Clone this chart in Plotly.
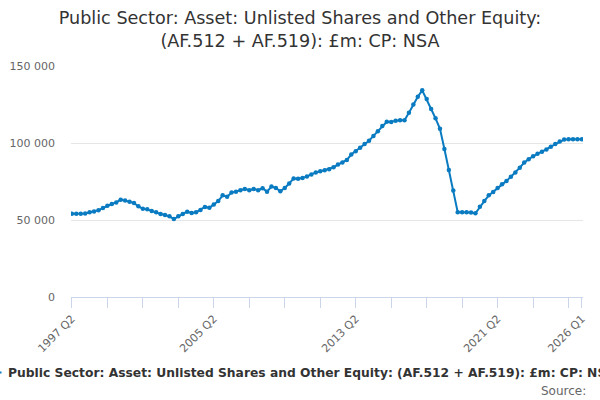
import plotly.graph_objects as go

title_text = "Public Sector: Asset: Unlisted Shares and Other Equity:<br>(AF.512 + AF.519): £m: CP: NSA"
series_name = "Public Sector: Asset: Unlisted Shares and Other Equity: (AF.512 + AF.519): £m: CP: NSA"

quarters = []
y, q = 1997, 2
while (y, q) <= (2026, 1):
    quarters.append(f"{y} Q{q}")
    q += 1
    if q > 4:
        q = 1
        y += 1

values = [
    54100, 54100, 54100, 54300, 55000, 55600, 56300, 57800, 59300, 60400,
    61400, 63200, 62700, 61900, 61000, 58900, 57300, 56900, 55800, 55000,
    53900, 53200, 52400, 50600, 52400, 53900, 55400, 54500, 55000, 56500,
    58500, 57900, 60100, 62300, 66000, 65100, 67800, 68400, 69300, 70200,
    69300, 70200, 69300, 70600, 68400, 71700, 70800, 68600, 70800, 73700,
    77000, 76800, 77200, 78300, 79600, 80900, 81600, 82300, 83000, 84200,
    86000, 87300, 89000, 92500, 94700, 96900, 99300, 101500, 104600, 107700,
    111000, 113800, 113600, 114500, 114700, 114700, 119700, 125000, 130000, 134200,
    128500, 122100, 116000, 109200, 96100, 82500, 69100, 55000, 55000, 55000,
    54800, 54400, 58600, 62300, 66000, 68200, 70800, 73200, 75400, 78100,
    80900, 84000, 87300, 89500, 91400, 93000, 94300, 95800, 97600, 99300,
    100900, 102200, 102400, 102400, 102400, 102400,
]

label_quarters = ["1997 Q2", "2005 Q2", "2013 Q2", "2021 Q2", "2026 Q1"]

idx = list(range(len(quarters)))
tickvals = list(range(0, len(quarters), 8)) + [len(quarters) - 1]
ticktext = [quarters[i] if quarters[i] in label_quarters else "" for i in tickvals]

line_color = "#0a7bc1"
font_family = "DejaVu Sans, Verdana, Arial, sans-serif"

W, H = 600, 400
L, R, T, B = 71, 17, 66, 103
pw, ph = W - L - R, H - T - B


def px_x(p):
    return (p - L) / pw


def px_y(p):
    return (H - B - p) / ph


fig = go.Figure()
fig.add_trace(go.Scatter(
    x=idx, y=values, mode="lines+markers", name=series_name, showlegend=False,
    line=dict(color=line_color, width=2),
    marker=dict(color=line_color, size=4.5),
    text=quarters, hovertemplate="%{text}: %{y}<extra></extra>",
))

fig.update_layout(
    width=W, height=H,
    paper_bgcolor="white", plot_bgcolor="white",
    font=dict(family=font_family, color="#333333"),
    separators=". ",
    margin=dict(l=L, r=R, t=T, b=B, autoexpand=False),
    title=dict(text=title_text, x=0.5, xanchor="center", yref="container", y=0.94,
               yanchor="top", font=dict(size=17.6, color="#333333")),
    xaxis=dict(range=[-0.2, len(quarters) - 1 + 0.25], tickmode="array", tickvals=tickvals,
               ticktext=ticktext, tickangle=-45, ticks="outside", ticklen=10,
               tickcolor="#ccd6eb", showline=True, linecolor="#ccd6eb", linewidth=1,
               showgrid=False, zeroline=False, automargin=False,
               tickfont=dict(size=11, color="#666666")),
    yaxis=dict(range=[0, 150000], tickvals=[0, 50000, 100000, 150000], tickformat=",d",
               showgrid=True, gridcolor="#e6e6e6", zeroline=False, showline=False,
               automargin=False, tickfont=dict(size=11, color="#666666"),
               ticklabelstandoff=15),
    shapes=[dict(type="line", xref="paper", yref="paper",
                 x0=px_x(-14), x1=px_x(1.5), y0=px_y(372.5), y1=px_y(372.5),
                 line=dict(color=line_color, width=2))],
    annotations=[
        dict(text="<b>" + series_name + "</b>", xref="paper", yref="paper",
             x=px_x(6.5), y=px_y(372.5), xanchor="left", yanchor="middle",
             showarrow=False, font=dict(size=12.3, color="#333333"), borderpad=0),
        dict(text="Source:", xref="paper", yref="paper", x=px_x(588), y=px_y(391),
             xanchor="right", yanchor="middle", showarrow=False,
             font=dict(size=12, color="#666666")),
    ],
)

fig.write_html("out.html", config={"displayModeBar": False},
               post_script="document.body.style.margin='0';")
